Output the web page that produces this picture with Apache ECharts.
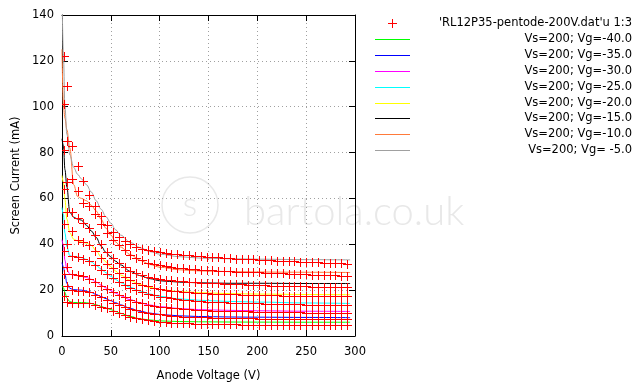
<!DOCTYPE html>
<html>
<head>
<meta charset="utf-8">
<script src="https://cdn.jsdelivr.net/npm/echarts@6/dist/echarts.min.js"></script>
<style>html,body{margin:0;padding:0;background:#fff}#c{width:640px;height:387px}</style>
</head>
<body>
<div id="c"></div>
<script>
// ---- data ----
const ptsX = [2, 5, 10, 16, 22, 28, 34, 40, 46, 52, 58, 64, 70, 76, 82, 88, 94, 100, 106, 112, 118, 124, 130, 136, 142, 148, 154, 160, 166, 172, 178, 184, 190, 196, 202, 208, 214, 220, 226, 232, 238, 244, 250, 256, 262, 268, 274, 280, 286, 292];
const ptsVg5  = [122, 109, 83, 74.3, 67.5, 61.7, 56.5, 52.3, 48.5, 45.5, 43.3, 41.5, 40, 38.9, 38.1, 37.4, 36.9, 36.5, 36.2, 35.9, 35.6, 35.4, 35.2, 35, 34.8, 34.6, 34.4, 34.3, 34.1, 34, 33.8, 33.7, 33.6, 33.4, 33.3, 33.2, 33, 32.9, 32.8, 32.7, 32.5, 32.4, 32.3, 32.2, 32.1, 32, 31.9, 31.8, 31.7, 31.6];
const ptsVg10 = [101, 85, 68.3, 63.2, 58, 56.5, 53, 49, 45, 42, 39.5, 37.5, 35.5, 34, 33, 32, 31.3, 30.8, 30.4, 30.1, 29.8, 29.6, 29.4, 29.2, 29, 28.8, 28.6, 28.5, 28.4, 28.2, 28.1, 28, 27.9, 27.8, 27.7, 27.6, 27.5, 27.4, 27.3, 27.2, 27.1, 27, 26.9, 26.8, 26.7, 26.6, 26.5, 26.4, 26.3, 26.2];
const ptsVg15 = [81.3, 67, 54, 51.5, 49.5, 47, 44, 40, 36.5, 34, 32, 30, 28.5, 27.3, 26.5, 25.8, 25.3, 24.9, 24.6, 24.3, 24.1, 23.9, 23.7, 23.5, 23.3, 23.2, 23, 22.9, 22.8, 22.7, 22.6, 22.5, 22.4, 22.3, 22.2, 22.1, 22, 21.9, 21.9, 21.8, 21.7, 21.6, 21.6, 21.5, 21.5, 21.4, 21.4, 21.3, 21.3, 21.2];
const ptsVg20 = [64, 54, 46, 42, 41, 39.5, 37, 34, 31.5, 29.5, 27.5, 25.8, 24.3, 23.2, 22.3, 21.6, 21, 20.5, 20.1, 19.8, 19.5, 19.3, 19.1, 18.9, 18.8, 18.6, 18.5, 18.4, 18.3, 18.2, 18.1, 18, 17.9, 17.9, 17.8, 17.8, 17.7, 17.7, 17.6, 17.6, 17.5, 17.5, 17.5, 17.4, 17.4, 17.4, 17.3, 17.3, 17.3, 17.3];
const ptsVg25 = [49, 40, 35, 34.5, 33.8, 32.8, 31, 29, 27, 25.2, 23.6, 22.2, 21, 19.9, 19, 18.3, 17.7, 17.2, 16.8, 16.4, 16.1, 15.8, 15.6, 15.4, 15.2, 15, 14.9, 14.8, 14.7, 14.6, 14.5, 14.4, 14.3, 14.2, 14.2, 14.1, 14, 14, 13.9, 13.9, 13.8, 13.8, 13.7, 13.7, 13.7, 13.6, 13.6, 13.6, 13.5, 13.5];
const ptsVg30 = [37, 30, 27, 26.5, 26, 25, 23.5, 22, 20.5, 19.2, 17.9, 16.8, 15.8, 15, 14.3, 13.7, 13.2, 12.8, 12.5, 12.2, 12, 11.8, 11.6, 11.5, 11.3, 11.2, 11.1, 11, 10.9, 10.9, 10.8, 10.7, 10.7, 10.6, 10.6, 10.5, 10.5, 10.4, 10.4, 10.4, 10.3, 10.3, 10.2, 10.2, 10.2, 10.1, 10.1, 10.1, 10, 10];
const ptsVg35 = [27, 22, 20, 19.8, 19.6, 19, 18, 16.8, 15.7, 14.6, 13.6, 12.7, 11.9, 11.2, 10.6, 10.1, 9.7, 9.4, 9.1, 8.9, 8.7, 8.5, 8.4, 8.3, 8.2, 8.1, 8, 7.9, 7.9, 7.8, 7.8, 7.7, 7.7, 7.7, 7.6, 7.6, 7.6, 7.5, 7.5, 7.5, 7.5, 7.4, 7.4, 7.4, 7.4, 7.4, 7.3, 7.3, 7.3, 7.3];
const ptsVg40 = [17.5, 15, 14.5, 14.4, 14.6, 14.3, 13.6, 12.8, 12, 11, 10, 9.2, 8.4, 7.8, 7.3, 6.9, 6.5, 6.2, 6, 5.8, 5.7, 5.6, 5.5, 5.4, 5.3, 5.3, 5.2, 5.2, 5.1, 5.1, 5.1, 5, 5, 5, 5, 5, 4.9, 4.9, 4.9, 4.9, 4.9, 4.9, 4.9, 4.9, 4.9, 4.9, 4.9, 4.9, 4.9, 4.9];

const fitX = [0, 1.5, 3, 5, 8, 12, 16, 20, 25, 30, 35, 40, 45, 50, 55, 60, 70, 80, 90, 100, 120, 140, 170, 200, 250, 295];
const fitVg40 = [22, 21, 19, 16.5, 15, 14.6, 14.6, 14.6, 14.5, 14.2, 13.6, 12.9, 12.2, 11.5, 10.7, 9.9, 8.5, 7.5, 7, 6.6, 6.3, 6.2, 6.1, 6.05, 6, 6];
const fitVg35 = [32, 30, 27, 23, 20.8, 20.2, 20.1, 20, 19.6, 19, 18.1, 17.2, 16.3, 15.4, 14.5, 13.6, 12, 10.8, 10, 9.4, 8.8, 8.5, 8.3, 8.2, 8.1, 8];
const fitVg30 = [42, 39.5, 33, 29, 27, 26.5, 26.3, 26, 25.5, 24.7, 23.5, 22.2, 21, 19.8, 18.7, 17.6, 15.8, 14.5, 13.5, 12.8, 12, 11.5, 11.2, 11, 10.8, 10.7];
const fitVg25 = [56, 53, 45, 39, 35, 34.6, 34.5, 34.2, 33.4, 32.3, 30.8, 29.2, 27.6, 26, 24.6, 23.3, 21.2, 19.6, 18.3, 17.3, 16.2, 15.6, 15.1, 14.8, 14.4, 14.2];
const fitVg20 = [70, 67, 59.6, 51, 45, 42.2, 41.5, 41, 40.5, 39.5, 37.2, 34.5, 32.3, 30.2, 28.3, 26.6, 24.2, 22.4, 21.2, 20.3, 19.4, 18.9, 18.5, 18.3, 18.1, 18];
const fitVg15 = [86, 83, 72.6, 65, 54, 51.8, 51, 50.5, 48.3, 45.8, 43, 39.2, 36.5, 34.5, 32.6, 31, 28.2, 26.3, 25, 24.1, 23.5, 23.2, 23, 23, 22.9, 22.9];
const fitVg10 = [125, 100, 95, 90, 82, 66, 60.8, 60, 59, 57, 54.5, 51, 47, 44, 41, 38.8, 35.5, 33, 31.2, 30, 28.9, 28.4, 28.1, 27.9, 27.8, 27.7];
const fitVg5  = [150, 122, 100, 88, 79, 73.5, 70.5, 68.5, 66, 62.8, 59, 55.3, 52, 49.2, 46.3, 44, 40.8, 38.5, 36.8, 35.7, 34.6, 34, 33.7, 33.5, 33.3, 33.2];

const dataName = "'RL12P35-pentode-200V.dat'u 1:3";
const fitNames = ['Vs=200; Vg=-40.0', 'Vs=200; Vg=-35.0', 'Vs=200; Vg=-30.0', 'Vs=200; Vg=-25.0', 'Vs=200; Vg=-20.0', 'Vs=200; Vg=-15.0', 'Vs=200; Vg=-10.0', 'Vs=200; Vg= -5.0'];
const fitColors = ['#00ff00', '#0000ff', '#ff00ff', '#00ffff', '#ffff00', '#000000', '#ff7a3a', '#a0a0a0'];
const xTicks = [0, 50, 100, 150, 200, 250, 300];
const yTicks = [0, 20, 40, 60, 80, 100, 120, 140];

// ---- build ----
const FONT = 'DejaVu Sans';
const ptsAll = [ptsVg40, ptsVg35, ptsVg30, ptsVg25, ptsVg20, ptsVg15, ptsVg10, ptsVg5];
const fitAll = [fitVg40, fitVg35, fitVg30, fitVg25, fitVg20, fitVg15, fitVg10, fitVg5];

const scatterData = [];
ptsAll.forEach(arr => arr.forEach((v, i) => scatterData.push([ptsX[i], v])));

function renderPlus(params, api) {
  const p = api.coord([api.value(0), api.value(1)]);
  const x = Math.round(p[0]), y = Math.round(p[1]);
  return {
    type: 'group',
    children: [
      { type: 'rect', shape: { x: x - 4, y: y, width: 9, height: 1 }, style: { fill: '#ff0000' } },
      { type: 'rect', shape: { x: x, y: y - 4, width: 1, height: 9 }, style: { fill: '#ff0000' } }
    ]
  };
}

const series = [];
fitAll.forEach((arr, k) => {
  series.push({
    name: fitNames[k], type: 'line', showSymbol: false, symbol: 'none',
    smooth: 0.35, smoothMonotone: 'x',
    lineStyle: { color: fitColors[k], width: 1 }, itemStyle: { color: fitColors[k] },
    data: arr.map((v, i) => [fitX[i], v]), z: 2, silent: true, clip: true
  });
});
series.push({
  name: dataName, type: 'custom', renderItem: renderPlus,
  encode: { x: 0, y: 1 }, data: scatterData, z: 3, silent: true, clip: true
});

const graphic = [];
// watermark
graphic.push({ type: 'circle', shape: { cx: 190, cy: 205, r: 28 }, style: { fill: 'none', stroke: '#e8e8e8', lineWidth: 1.5 }, z: -10, silent: true });
graphic.push({ type: 'text', x: 190, y: 205, style: { text: 's', font: '300 34px Lato', fill: '#e8e8e8', align: 'center', verticalAlign: 'middle' }, z: -10, silent: true });
graphic.push({ type: 'text', x: 244, y: 212, style: { text: 'bartola.co.uk', font: '300 40px Lato', fill: '#e8e8e8', align: 'left', verticalAlign: 'middle' }, z: -10, silent: true });

// legend (gnuplot style)
const legTop = 23, legStep = 15.9;
graphic.push({ type: 'rect', shape: { x: 388, y: 23, width: 9, height: 1 }, style: { fill: '#ff0000' }, silent: true });
graphic.push({ type: 'rect', shape: { x: 392, y: 19, width: 1, height: 9 }, style: { fill: '#ff0000' }, silent: true });
graphic.push({ type: 'text', x: 632, y: legTop, style: { text: dataName, font: '11.5px ' + FONT, fill: '#000', align: 'right', verticalAlign: 'middle' }, silent: true });
fitNames.forEach((n, k) => {
  const y = Math.round(legTop + legStep * (k + 1));
  graphic.push({ type: 'rect', shape: { x: 375, y: y, width: 35, height: 1 }, style: { fill: fitColors[k] }, silent: true });
  graphic.push({ type: 'text', x: 632, y: y, style: { text: n, font: '11.5px ' + FONT, fill: '#000', align: 'right', verticalAlign: 'middle' }, silent: true });
});

const axisCommon = {
  type: 'value',
  axisLine: { show: true, onZero: false, lineStyle: { color: '#000', width: 1 } },
  axisTick: { show: true, inside: true, length: 6, lineStyle: { color: '#000' } },
  minorTick: { show: false }
};

const option = {
  animation: false,
  backgroundColor: '#fff',
  grid: { left: 62, right: 285, top: 15, bottom: 50, containLabel: false },
  xAxis: [
    Object.assign({}, axisCommon, {
      position: 'bottom', min: xTicks[0], max: xTicks[xTicks.length - 1], interval: 50,
      axisLabel: { margin: 10, fontFamily: FONT, fontSize: 11.5, color: '#000' },
      splitLine: { show: true, lineStyle: { color: '#a0a0a0', width: 1, type: [1, 3] } },
      name: 'Anode Voltage (V)', nameLocation: 'middle', nameGap: 34,
      nameTextStyle: { fontFamily: FONT, fontSize: 11.5, color: '#000' }
    }),
    Object.assign({}, axisCommon, {
      position: 'top', min: xTicks[0], max: xTicks[xTicks.length - 1], interval: 50,
      axisLabel: { show: false }, splitLine: { show: false }
    })
  ],
  yAxis: [
    Object.assign({}, axisCommon, {
      position: 'left', min: yTicks[0], max: yTicks[yTicks.length - 1], interval: 20,
      axisLabel: { margin: 8, fontFamily: FONT, fontSize: 11.5, color: '#000' },
      splitLine: { show: true, lineStyle: { color: '#a0a0a0', width: 1, type: [1, 3] } },
      name: 'Screen Current (mA)', nameLocation: 'middle', nameGap: 40, nameRotate: 90,
      nameTextStyle: { fontFamily: FONT, fontSize: 11.5, color: '#000' }
    }),
    Object.assign({}, axisCommon, {
      position: 'right', min: yTicks[0], max: yTicks[yTicks.length - 1], interval: 20,
      axisLabel: { show: false }, splitLine: { show: false }
    })
  ],
  series: series,
  graphic: graphic
};

const chart = echarts.init(document.getElementById('c'), null, { renderer: 'canvas' });
chart.setOption(option);
</script>
</body>
</html>
